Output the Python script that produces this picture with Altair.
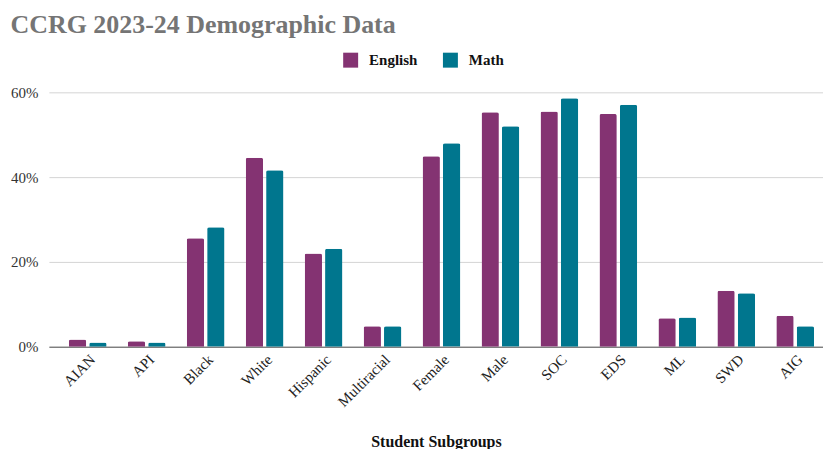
import altair as alt
import pandas as pd

categories = ["AIAN", "API", "Black", "White", "Hispanic", "Multiracial", "Female",
              "Male", "SOC", "EDS", "ML", "SWD", "AIG"]
english = [1.7, 1.3, 25.6, 44.6, 22.0, 4.8, 44.9, 55.3, 55.5, 54.9, 6.7, 13.2, 7.3]
math = [1.0, 1.0, 28.2, 41.6, 23.1, 4.8, 48.0, 52.0, 58.6, 57.1, 6.9, 12.6, 4.8]
series = ["English", "Math"]
colors = ["#843372", "#00768E"]

rows = []
for c, e, m in zip(categories, english, math):
    rows.append({"group": c, "subject": "English", "value": e / 100})
    rows.append({"group": c, "subject": "Math", "value": m / 100})
df = pd.DataFrame(rows)

FONT = "Liberation Serif"

chart = alt.Chart(df).mark_bar(
    cornerRadiusTopLeft=2, cornerRadiusTopRight=2
).encode(
    x=alt.X("group:N", sort=categories,
            scale=alt.Scale(paddingInner=0.36, paddingOuter=0.245, align=0.69),
            axis=alt.Axis(title="Student Subgroups", labelAngle=-45,
                          labelAlign="right", labelBaseline="middle",
                          labelFont=FONT, labelFontSize=15, labelColor="#222222",
                          labelPadding=10, labelOffset=5, ticks=False, domainColor="#555555",
                          titleFont=FONT, titleFontSize=16, titleFontWeight="bold",
                          titleColor="#111111", titlePadding=24)),
    xOffset=alt.XOffset("subject:N", sort=series,
                        scale=alt.Scale(paddingInner=0.15, paddingOuter=0)),
    y=alt.Y("value:Q", scale=alt.Scale(domain=[0, 0.6], nice=False),
            axis=alt.Axis(title=None, format=".0%", values=[0, 0.2, 0.4, 0.6],
                          labelFont=FONT, labelFontSize=15, labelColor="#333333",
                          labelPadding=11, ticks=False, domain=False,
                          gridColor="#d4d4d4", gridWidth=1)),
    color=alt.Color("subject:N", sort=series,
                    scale=alt.Scale(domain=series, range=colors),
                    legend=alt.Legend(title=None, orient="none", direction="horizontal",
                                      legendX=295, legendY=-40,
                                      symbolType="square", symbolSize=225,
                                      symbolStrokeWidth=0, symbolOpacity=1,
                                      labelFont=FONT, labelFontSize=15,
                                      labelFontWeight="bold", labelColor="#111111",
                                      columnPadding=25, labelOffset=11)),
).properties(
    width=776,
    height=255,
    padding={"left": 2, "top": 4, "right": 0, "bottom": 0},
    title=alt.Title("CCRG 2023-24 Demographic Data", anchor="start", frame="bounds",
                    font=FONT, fontSize=26, fontWeight="bold", color="#757575",
                    offset=14),
).configure_view(stroke=None)

chart.save("out.html", embed_options={"renderer": "svg", "actions": False})
